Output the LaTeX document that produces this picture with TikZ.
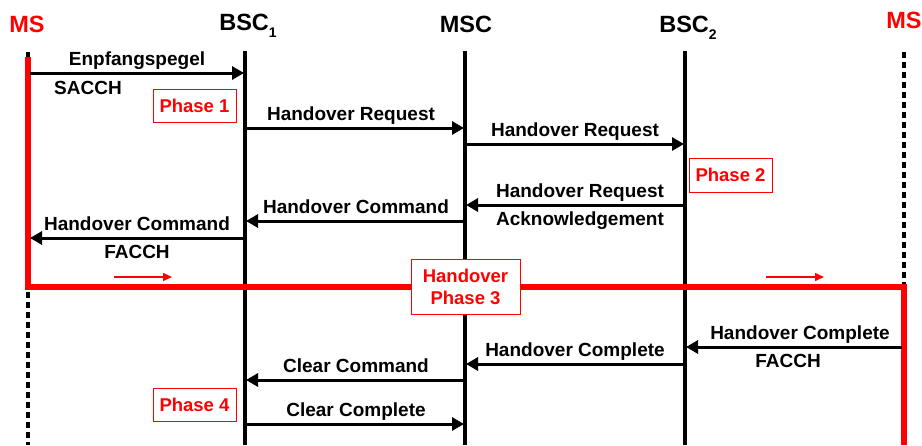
\documentclass[tikz,border=0pt]{standalone}
\usepackage{fontspec}
\setmainfont{Liberation Sans}
\usetikzlibrary{arrows.meta}
\definecolor{msred}{RGB}{255,0,0}
\tikzset{
  lifeline/.style={line width=3.5pt},
  msdash/.style={line width=3.5pt, dash pattern=on 6pt off 4pt},
  msg/.style={line width=3pt, -{Triangle[length=12pt,width=13pt]}},
  lbl/.style={font=\fontsize{19}{20}\selectfont\bfseries, anchor=base, inner sep=0pt},
  title/.style={font=\fontsize{23.5}{25}\selectfont\bfseries, inner sep=0pt},
  phase/.style={draw=msred, line width=1pt, fill=white, text=msred,
    font=\fontsize{18.5}{22}\selectfont\bfseries, align=center, inner sep=0pt},
  redpath/.style={draw=msred, line width=6pt, miter limit=10},
  smallred/.style={draw=msred, line width=1.5pt, -{Triangle[length=9pt,width=8pt]}}
}
\newcommand{\sub}[1]{\raisebox{-0.3em}{\fontsize{14}{14}\selectfont #1}}
\begin{document}
\begin{tikzpicture}[x=1pt,y=-1pt]
\useasboundingbox (0,0) rectangle (922,445);
% titles
\node[title, text=msred] (tms1) at (27,24) {MS};
\node[title] (tbsc1) at (248,26) {BSC\sub{1}};
\node[title] (tmsc) at (466,24) {MSC};
\node[title] (tbsc2) at (688,28) {BSC\sub{2}};
\node[title, text=msred] (tms2) at (904,20) {MS};
% lifeline coordinates
\coordinate (ms1t) at (28,52);
\coordinate (ms1b) at (28,445);
\coordinate (b1t) at (245,51);
\coordinate (b1b) at (245,445);
\coordinate (msct) at (465,51);
\coordinate (mscb) at (465,445);
\coordinate (b2t) at (685,51);
\coordinate (b2b) at (685,445);
\coordinate (ms2t) at (904,52);
\coordinate (ms2b) at (904,445);
\coordinate (ms1r) at (28,57);
\coordinate (c1) at (28,287);
\coordinate (c2) at (904,287);
% lifelines
\draw[msdash] (ms1t) -- (ms1b);
\draw[msdash] (ms2t) -- (ms2b);
\draw[lifeline] (b1t) -- (b1b);
\draw[lifeline] (msct) -- (mscb);
\draw[lifeline] (b2t) -- (b2b);
% red MS path
\draw[redpath] (ms1r) -- (c1) -- (c2) -- (ms2b);
% message endpoints
\coordinate (m1a) at (30,73);  \coordinate (m1b) at (244,73);
\coordinate (m2a) at (246,128); \coordinate (m2b) at (464,128);
\coordinate (m3a) at (466,144); \coordinate (m3b) at (684,144);
\coordinate (m4a) at (684,205); \coordinate (m4b) at (466,205);
\coordinate (m5a) at (464,221); \coordinate (m5b) at (246,221);
\coordinate (m6a) at (244,238); \coordinate (m6b) at (30,238);
\coordinate (m7a) at (902,347); \coordinate (m7b) at (686,347);
\coordinate (m8a) at (684,364); \coordinate (m8b) at (466,364);
\coordinate (m9a) at (464,380); \coordinate (m9b) at (246,380);
\coordinate (m10a) at (246,424); \coordinate (m10b) at (464,424);
% messages
\draw[msg] (m1a) -- (m1b);
\draw[msg] (m2a) -- (m2b);
\draw[msg] (m3a) -- (m3b);
\draw[msg] (m4a) -- (m4b);
\draw[msg] (m5a) -- (m5b);
\draw[msg] (m6a) -- (m6b);
\draw[msg] (m7a) -- (m7b);
\draw[msg] (m8a) -- (m8b);
\draw[msg] (m9a) -- (m9b);
\draw[msg] (m10a) -- (m10b);
% labels
\node[lbl] (l1) at (137,65) {Enpfangspegel};
\node[lbl] (l1b) at (88,94) {SACCH};
\node[lbl] (l2) at (351,120) {Handover Request};
\node[lbl] (l3) at (575,136) {Handover Request};
\node[lbl] (l4) at (580,197) {Handover Request};
\node[lbl] (l4b) at (580,225) {Acknowledgement};
\node[lbl] (l5) at (356,213) {Handover Command};
\node[lbl] (l6) at (137,230) {Handover Command};
\node[lbl] (l6b) at (137,258) {FACCH};
\node[lbl] (l7) at (800,339) {Handover Complete};
\node[lbl] (l7b) at (788,367) {FACCH};
\node[lbl] (l8) at (575,356) {Handover Complete};
\node[lbl] (l9) at (356,372) {Clear Command};
\node[lbl] (l10) at (356,416) {Clear Complete};
% small red arrows
\coordinate (ra1) at (114,277); \coordinate (rb1) at (172,277);
\coordinate (ra2) at (766,277); \coordinate (rb2) at (824,277);
\draw[smallred] (ra1) -- (rb1);
\draw[smallred] (ra2) -- (rb2);
% phase boxes
\node[phase, minimum width=83pt, minimum height=33pt] (p1) at (194.5,106) {Phase 1};
\node[phase, minimum width=83pt, minimum height=34pt] (p2) at (730.5,175) {Phase 2};
\node[phase, minimum width=109pt, minimum height=55pt] (p3) at (465.5,286.5) {Handover\\Phase 3};
\node[phase, minimum width=83pt, minimum height=33pt] (p4) at (194.5,405) {Phase 4};
\end{tikzpicture}
\end{document}
